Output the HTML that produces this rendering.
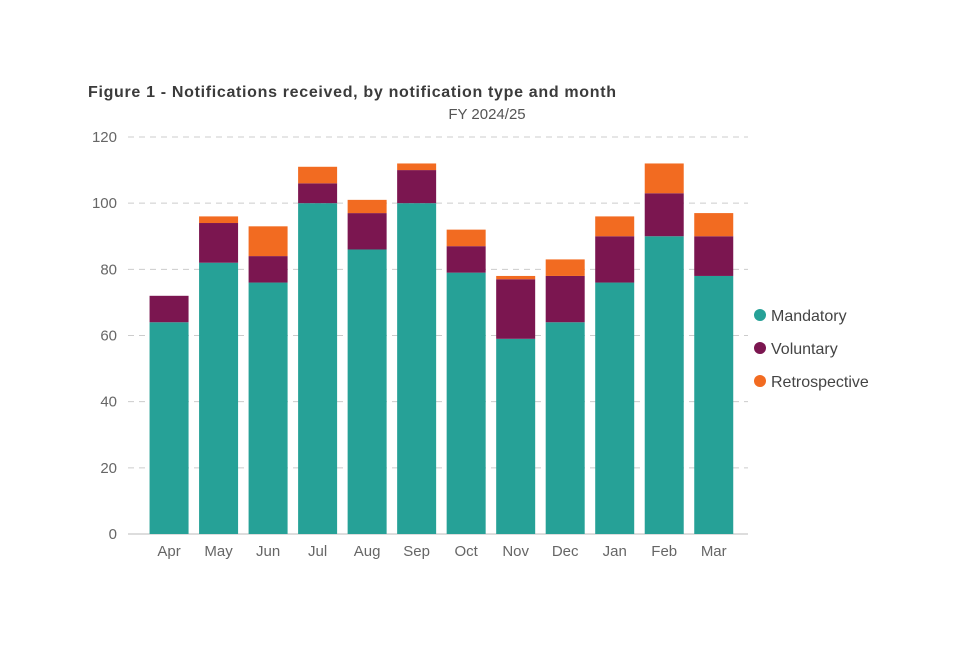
<!DOCTYPE html>
<html><head><meta charset="utf-8"><style>
body{margin:0;background:#fff;width:960px;height:640px;overflow:hidden;font-family:"Liberation Sans",sans-serif}
</style></head><body>
<svg id="chart" width="960" height="640" xmlns="http://www.w3.org/2000/svg">
<text x="88" y="97" font-size="16" font-weight="bold" fill="#3b3b3b" textLength="528">Figure 1 - Notifications received, by notification type and month</text>
<text x="487" y="119" font-size="15" fill="#555" text-anchor="middle">FY 2024/25</text>
<g id="grid"></g><g id="bars"></g><g id="xlabels"></g>
<g>
<g><circle cx="760" cy="315" r="6" fill="#26A197"/><text x="771" y="321" font-size="16" fill="#444">Mandatory</text></g>
<g><circle cx="760" cy="348" r="6" fill="#7B1650"/><text x="771" y="354" font-size="16" fill="#444">Voluntary</text></g>
<g><circle cx="760" cy="381" r="6" fill="#F26B21"/><text x="771" y="387" font-size="16" fill="#444">Retrospective</text></g>
</g>
</svg>
<script>
const months=["Apr","May","Jun","Jul","Aug","Sep","Oct","Nov","Dec","Jan","Feb","Mar"];
const mandatory=[64,82,76,100,86,100,79,59,64,76,90,78];
const voluntary=[8,12,8,6,11,10,8,18,14,14,13,12];
const retrospective=[0,2,9,5,4,2,5,1,5,6,9,7];
const yTicks=[0,20,40,60,80,100,120];
const NS="http://www.w3.org/2000/svg";
const y0=534,y1=137,yMax=120;
const y=v=>y0-(v/yMax)*(y0-y1);
const xStart=144.3,xEnd=738.5,band=(xEnd-xStart)/months.length,bw=39;
const xc=i=>xStart+band*(i+0.5);
function mk(t,a,p){const e=document.createElementNS(NS,t);for(const k in a)e.setAttribute(k,a[k]);p.appendChild(e);return e;}
const grid=document.getElementById('grid');
yTicks.forEach(t=>{
  const l=mk('line',{x1:128,x2:748,y1:y(t),y2:y(t),stroke:t===0?'#bbb':'#ccc','stroke-dasharray':t===0?'':'6,5'},grid);
  
  
  const tx=mk('text',{x:117,y:y(t)+5,'font-size':15,fill:'#666','text-anchor':'end'},grid);
  tx.textContent=t;
  
  
});
const bars=document.getElementById('bars'),xl=document.getElementById('xlabels');
const series=[[mandatory,'#26A197','mandatory'],[voluntary,'#7B1650','voluntary'],[retrospective,'#F26B21','retrospective']];
months.forEach((m,i)=>{
  let base=0;
  series.forEach(([arr,col,nm])=>{
    const v=arr[i];if(v<=0)return;
    const r=mk('rect',{x:xc(i)-bw/2,y:y(base+v),width:bw,height:y(base)-y(base+v),fill:col},bars);
    
    
    base+=v;
  });
  const t=mk('text',{x:xc(i),y:556,'font-size':15,fill:'#666','text-anchor':'middle'},xl);
  t.textContent=m;
  
  
});
</script>
</body></html>
